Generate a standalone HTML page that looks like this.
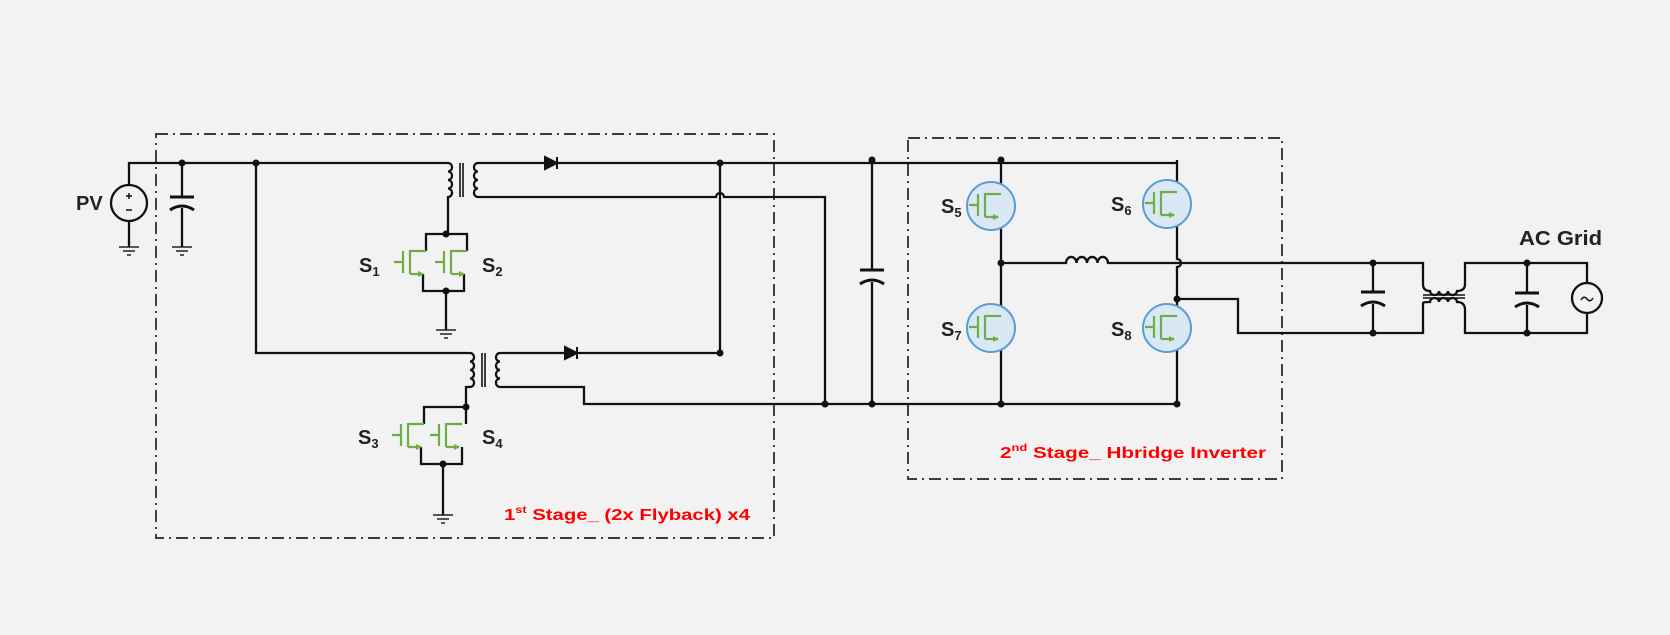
<!DOCTYPE html>
<html><head><meta charset="utf-8"><style>
html,body{margin:0;padding:0;background:#f2f2f2;}
svg{display:block;}
text{font-family:"Liberation Sans",sans-serif;font-weight:bold;}
</style></head><body>
<svg width="1670" height="635" viewBox="0 0 1670 635" xmlns="http://www.w3.org/2000/svg">
<defs>
<marker id="ar" markerWidth="6" markerHeight="6" refX="5" refY="3" orient="auto" markerUnits="userSpaceOnUse"><path d="M0,0 L6,3 L0,6 z" fill="#70ad47"/></marker>
<g id="sm">
  <path d="M-16,12 H-7 M-7,1 V23 M0,0 V24 M0,1 H16 M0,24 H13" stroke="#70ad47" stroke-width="2.2" fill="none"/>
  <path d="M8,24 H13" stroke="#70ad47" stroke-width="2.2" marker-end="url(#ar)"/>
</g>
<g id="gnd"><path d="M-10,0 H10 M-6,4 H6 M-2,8 H2" stroke="#222" stroke-width="1.6"/></g>
</defs>
<rect width="1670" height="635" fill="#f2f2f2"/>
<g fill="none" stroke="#222" stroke-width="1.7" stroke-dasharray="12 5 2 5">
<rect x="156" y="134" width="618" height="404"/>
<rect x="908" y="138" width="374" height="341"/>
</g>
<g fill="none" stroke="#111" stroke-width="2.3">
<path d="M129,185 V163 H448"/>
<circle cx="129" cy="203" r="18"/>
<path d="M129,221 V247 M182,163 V197 M182,208 V247"/>
<path d="M170,197 H194" stroke-width="3"/>
<path d="M170,210 Q182,202 194,210" stroke-width="3"/>
<path d="M129,193 V199 M126,196 H132 M126,210 H132" stroke-width="1.5"/>
<path d="M256,163 V353 H470"/>
<path d="M448,163 a4,4.2 0 0 1 0,8.5 a4,4.2 0 0 1 0,8.5 a4,4.2 0 0 1 0,8.5 a4,4.2 0 0 1 0,8.5 V234"/>
<path d="M460,163 V197 M463,163 V197" stroke-width="1.6"/>
<path d="M478,163 a4,4.2 0 0 0 0,8.5 a4,4.2 0 0 0 0,8.5 a4,4.2 0 0 0 0,8.5 a4,4.2 0 0 0 0,8.5"/>
<path d="M478,163 H1177 M478,197 H716 a4,4 0 0 1 8,0 H825 V404"/>
<path d="M720,163 V353 H500"/>
<path d="M470,353 a4,4.2 0 0 1 0,8.5 a4,4.2 0 0 1 0,8.5 a4,4.2 0 0 1 0,8.5 a4,4.2 0 0 1 0,8.5 H466 V407"/>
<path d="M482,353 V387 M485,353 V387" stroke-width="1.6"/>
<path d="M500,353 a4,4.2 0 0 0 0,8.5 a4,4.2 0 0 0 0,8.5 a4,4.2 0 0 0 0,8.5 a4,4.2 0 0 0 0,8.5 H584 V404 H1177"/>
<path d="M426,251 V234 H467 V251 M423,274 V291 H464 V274 M446,291 V330"/>
<path d="M424,424 V407 H466 V424 M421,447 V464 H462 V447 M443,464 V515"/>
<path d="M872,160 V270 M872,282 V404"/>
<path d="M860,270 H884" stroke-width="3"/>
<path d="M860,284 Q872,276 884,284" stroke-width="3"/>
<path d="M1001,160 V193 M1001,219 V315 M1001,341 V404 M1177,160 V191 M1177,217 V259 a4,4 0 0 1 0,8 V315 M1177,341 V404"/>
<path d="M1001,263 H1066 a5.2,6 0 0 1 10.5,0 a5.2,6 0 0 1 10.5,0 a5.2,6 0 0 1 10.5,0 a5.2,6 0 0 1 10.5,0 H1423 V284"/>
<path d="M1177,299 H1238 V333 H1423 V303"/>
<path d="M1373,263 V292 M1373,304 V333"/>
<path d="M1361,292 H1385" stroke-width="3"/>
<path d="M1361,306 Q1373,298 1385,306" stroke-width="3"/>
<path d="M1423,284 Q1423,291 1430,291 a4.5,4 0 0 0 9,0 a4.5,4 0 0 0 9,0 a4.5,4 0 0 0 9,0 Q1465,291 1465,284 V263 H1587 V283"/>
<path d="M1423,295 H1465 M1423,298 H1465" stroke-width="1.6"/>
<path d="M1423,303 Q1423,302 1430,302 a4.5,4 0 0 1 9,0 a4.5,4 0 0 1 9,0 a4.5,4 0 0 1 9,0 Q1465,302 1465,310 V333 H1587 V313"/>
<path d="M1527,263 V293 M1527,305 V333"/>
<path d="M1515,293 H1539" stroke-width="3"/>
<path d="M1515,307 Q1527,299 1539,307" stroke-width="3"/>
<circle cx="1587" cy="298" r="15"/>
<path d="M1581,300 q3,-5 6,-1 t6,-1" stroke-width="1.5"/>
</g>
<path d="M545,157 L557,163 L545,169 z M557,157 V169" fill="#111" stroke="#111" stroke-width="2"/>
<path d="M565,347 L577,353 L565,359 z M577,347 V359" fill="#111" stroke="#111" stroke-width="2"/>
<use href="#gnd" x="129" y="247"/><use href="#gnd" x="182" y="247"/>
<use href="#gnd" x="446" y="330"/><use href="#gnd" x="443" y="515"/>
<use href="#sm" x="410" y="250"/><use href="#sm" x="451" y="250"/>
<use href="#sm" x="408" y="423"/><use href="#sm" x="446" y="423"/>
<g stroke="#5b9bd5" stroke-width="2" fill="#dae8f5">
<circle cx="991" cy="206" r="24"/><circle cx="1167" cy="204" r="24"/>
<circle cx="991" cy="328" r="24"/><circle cx="1167" cy="328" r="24"/>
</g>
<use href="#sm" x="985" y="193"/><use href="#sm" x="1161" y="191"/>
<use href="#sm" x="985" y="315"/><use href="#sm" x="1161" y="315"/>
<g fill="#111">
<circle cx="182" cy="163" r="3.5"/><circle cx="256" cy="163" r="3.5"/><circle cx="720" cy="163" r="3.5"/><circle cx="720" cy="353" r="3.5"/>
<circle cx="446" cy="234" r="3.5"/><circle cx="446" cy="291" r="3.5"/><circle cx="466" cy="407" r="3.5"/><circle cx="443" cy="464" r="3.5"/>
<circle cx="872" cy="160" r="3.5"/><circle cx="1001" cy="160" r="3.5"/><circle cx="825" cy="404" r="3.5"/><circle cx="872" cy="404" r="3.5"/><circle cx="1001" cy="404" r="3.5"/><circle cx="1177" cy="404" r="3.5"/>
<circle cx="1001" cy="263" r="3.5"/><circle cx="1177" cy="299" r="3.5"/>
<circle cx="1373" cy="263" r="3.5"/><circle cx="1373" cy="333" r="3.5"/><circle cx="1527" cy="263" r="3.5"/><circle cx="1527" cy="333" r="3.5"/>
</g>
<g fill="#222" font-size="20">
<text x="76" y="210">PV</text>
<text x="359" y="272">S<tspan font-size="13" dy="4">1</tspan></text>
<text x="482" y="272">S<tspan font-size="13" dy="4">2</tspan></text>
<text x="358" y="444">S<tspan font-size="13" dy="4">3</tspan></text>
<text x="482" y="444">S<tspan font-size="13" dy="4">4</tspan></text>
<text x="941" y="213">S<tspan font-size="13" dy="4">5</tspan></text>
<text x="1111" y="211">S<tspan font-size="13" dy="4">6</tspan></text>
<text x="941" y="336">S<tspan font-size="13" dy="4">7</tspan></text>
<text x="1111" y="336">S<tspan font-size="13" dy="4">8</tspan></text>
<text x="1519" y="245" textLength="83" lengthAdjust="spacingAndGlyphs">AC Grid</text>
</g>
<g fill="#ff0000" font-size="16">
<text x="504" y="520" textLength="246" lengthAdjust="spacingAndGlyphs">1<tspan font-size="10" dy="-7">st</tspan><tspan dy="7"> Stage_ (2x Flyback) x4</tspan></text>
<text x="1000" y="458" textLength="266" lengthAdjust="spacingAndGlyphs">2<tspan font-size="10" dy="-7">nd</tspan><tspan dy="7"> Stage_ Hbridge Inverter</tspan></text>
</g>
</svg>
</body></html>
